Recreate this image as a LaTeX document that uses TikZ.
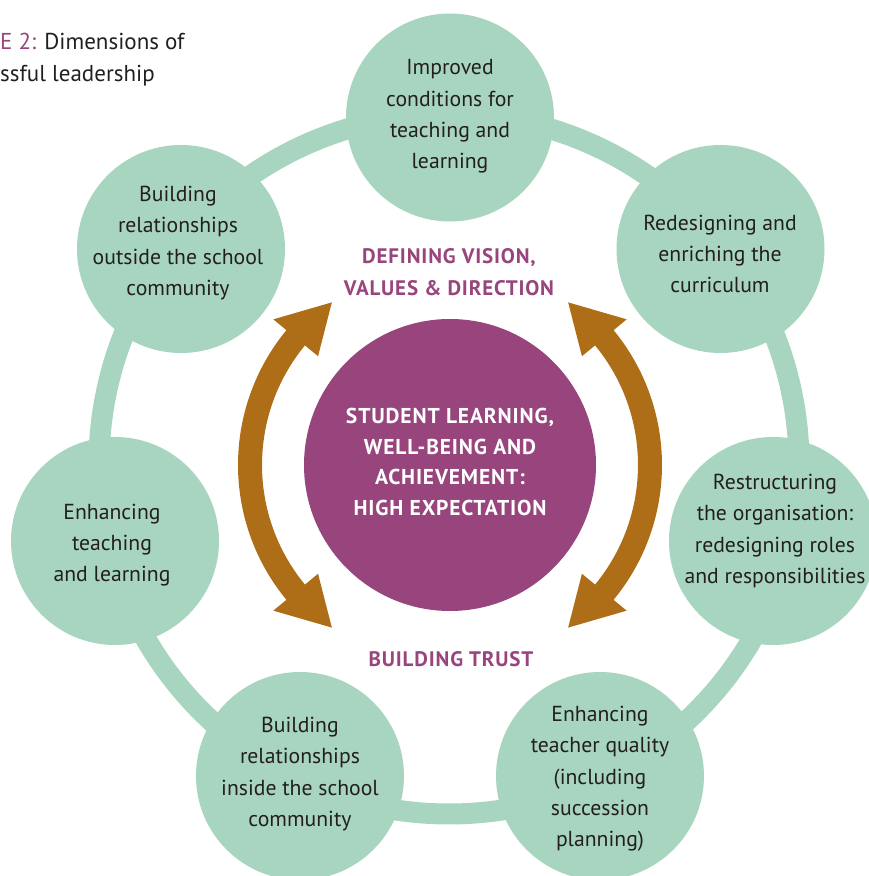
\documentclass[tikz,border=0pt]{standalone}
\usepackage{fontspec}
\setmainfont{PT Sans}
\newfontfamily\headfont{PT Sans}[LetterSpace=4]
\definecolor{dimgreen}{HTML}{A8D5BF}
\definecolor{corepurple}{HTML}{97457C}
\definecolor{arrowbrown}{HTML}{AE6E17}
\definecolor{textdark}{HTML}{231F20}
\tikzset{
  dimcircle/.style={circle, fill=dimgreen, minimum size=208pt, inner sep=0pt},
  dimtext/.style={font=\fontsize{21.7}{31.3}\selectfont, align=center, text=textdark, inner sep=0pt},
  headtext/.style={font=\headfont\bfseries\fontsize{21}{32}\selectfont, align=center, text=corepurple, inner sep=0pt},
  coretext/.style={font=\headfont\bfseries\fontsize{21.5}{30.5}\selectfont, align=center, text=white, inner sep=0pt},
  titletext/.style={font=\fontsize{23}{32}\selectfont, text=textdark, inner sep=0pt, anchor=base west},
  bigarrow/.style={fill=arrowbrown, draw=none}
}
\begin{document}
\begin{tikzpicture}[x=1pt,y=1pt]
\useasboundingbox (0,0) rectangle (869,876);
% ring
\draw[dimgreen, line width=21pt] (449,412) circle[radius=350];
% circles
\node[dimcircle] (c1) at (450,758.5) {};
\node[dimcircle] (c2) at (720.5,627) {};
\node[dimcircle] (c3) at (773,335) {};
\node[dimcircle] (c4) at (600,100) {};
\node[dimcircle] (c5) at (300,100) {};
\node[dimcircle] (c6) at (115,335) {};
\node[dimcircle] (c7) at (181,627) {};
% texts in circles
\node[dimtext] (t1) at (450,759.5) {Improved\\conditions for\\teaching and\\learning};
\node[dimtext] (t2) at (720,622) {Redesigning and\\enriching the\\curriculum};
\node[dimtext] (t3) at (775,345) {Restructuring\\the organisation:\\redesigning roles\\and responsibilities};
\node[dimtext] (t4) at (600,97) {Enhancing\\teacher quality\\(including\\succession\\planning)};
\node[dimtext] (t5) at (300,102) {Building\\relationships\\inside the school\\community};
\node[dimtext] (t6) at (112,331) {Enhancing\\teaching\\and learning};
\node[dimtext] (t7) at (178,633) {Building\\relationships\\outside the school\\community};
% core
\node[circle, fill=corepurple, minimum size=292pt, inner sep=0pt] (core) at (450,411) {};
\node[coretext] (coret) at (450,414) {STUDENT LEARNING,\\WELL-BEING AND\\ACHIEVEMENT:\\HIGH EXPECTATION};
% arrows
\begin{scope}[shift={(450,411)}]
\fill[bigarrow] (126:201) -- (140.5:229) -- (140.5:212) arc[start angle=140.5, end angle=219.5, radius=212]
  -- (219.5:229) -- (234:201) -- (219.5:171) -- (219.5:188) arc[start angle=219.5, end angle=140.5, radius=188]
  -- (140.5:171) -- cycle;
\fill[bigarrow] (54:201) -- (39.5:229) -- (39.5:212) arc[start angle=39.5, end angle=-39.5, radius=212]
  -- (-39.5:229) -- (-54:201) -- (-39.5:171) -- (-39.5:188) arc[start angle=-39.5, end angle=39.5, radius=188]
  -- (39.5:171) -- cycle;
\end{scope}
% headings
\node[headtext] (vision) at (449,604) {DEFINING VISION,\\VALUES \& DIRECTION};
\node[headtext] (trust) at (451,216.5) {BUILDING TRUST};
% title
\node[titletext] (title1) at (0,826) {\textcolor{corepurple}{E 2:} Dimensions of};
\node[titletext] (title2) at (0,794) {ssful leadership};
\end{tikzpicture}
\end{document}
